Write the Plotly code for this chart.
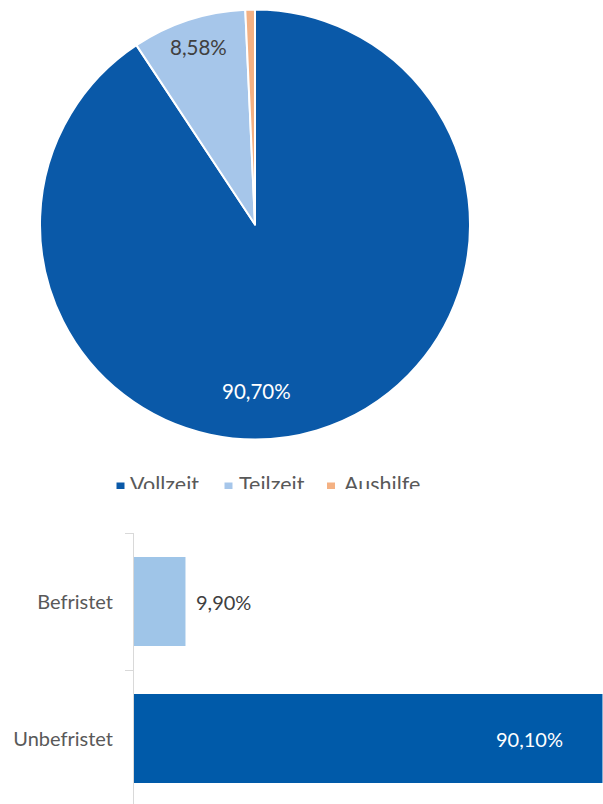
import plotly.graph_objects as go

# Beschäftigungsart (Anteile in %)
pie_labels = ["Vollzeit", "Teilzeit", "Aushilfe"]
pie_values = [90.70, 8.58, 0.72]
pie_colors = ["#0A59A8", "#A6C6EA", "#F4B183"]

# Befristung (Anteile in %)
bar_labels = ["Unbefristet", "Befristet"]
bar_values = [90.10, 9.90]
bar_colors = ["#005AA9", "#9FC5E8"]

FONT = "Lato"
GREY = "#595959"
DARK = "#404040"
W, H = 603, 804


def pct(v):
    return f"{v:.2f}".replace(".", ",") + "%"


def py(px):
    """Pixel row (from top) -> paper y."""
    return 1 - px / H


fig = go.Figure()

# Kreisdiagramm
fig.add_trace(go.Pie(
    labels=pie_labels,
    values=pie_values,
    sort=False,
    direction="clockwise",
    rotation=0,
    marker=dict(colors=pie_colors, line=dict(color="white", width=2)),
    textinfo="none",
    domain=dict(x=[40 / W, 470 / W], y=[py(440), py(9)]),
    showlegend=False,
    hoverinfo="label+percent",
))

# Datenbeschriftungen im Kreis
fig.add_annotation(
    xref="paper", yref="paper", x=256.5 / W, y=py(391),
    text=pct(pie_values[0]), showarrow=False,
    xanchor="center", yanchor="middle",
    font=dict(family=FONT, size=20.5, color="white"),
)
fig.add_annotation(
    xref="paper", yref="paper", x=198 / W, y=py(47),
    text=pct(pie_values[1]), showarrow=False,
    xanchor="center", yanchor="middle",
    font=dict(family=FONT, size=20.5, color=DARK),
)

# Legende unter dem Kreis (unten angeschnitten)
legend_marker_x = [120.5, 228.5, 331.0]
legend_text_x = [130.0, 239.0, 344.0]
fig.add_trace(go.Scatter(
    x=legend_marker_x,
    y=[2.5] * 3,
    mode="markers",
    marker=dict(symbol="square", size=8, color=pie_colors),
    cliponaxis=True,
    xaxis="x3", yaxis="y3",
    showlegend=False,
    hoverinfo="skip",
))
fig.add_trace(go.Scatter(
    x=legend_text_x,
    y=[2.5] * 3,
    mode="text",
    text=pie_labels,
    textposition="middle right",
    textfont=dict(family=FONT, size=21.5, color=GREY),
    cliponaxis=True,
    xaxis="x3", yaxis="y3",
    showlegend=False,
    hoverinfo="skip",
))

# Balkendiagramm
fig.add_trace(go.Bar(
    y=bar_labels,
    x=bar_values,
    orientation="h",
    width=0.65,
    marker=dict(color=bar_colors, line=dict(width=0)),
    showlegend=False,
    hovertemplate="%{y}: %{x:.2f}%<extra></extra>",
))

fig.add_annotation(
    x=bar_values[1], y=bar_labels[1], xref="x", yref="y",
    text=pct(bar_values[1]), showarrow=False,
    xanchor="left", xshift=9,
    font=dict(family=FONT, size=20, color=DARK),
)
fig.add_annotation(
    x=bar_values[0], y=bar_labels[0], xref="x", yref="y",
    text=pct(bar_values[0]), showarrow=False,
    xanchor="right", xshift=-37,
    font=dict(family=FONT, size=20, color="white"),
)

fig.update_layout(
    width=W, height=H,
    margin=dict(l=0, r=0, t=0, b=0),
    paper_bgcolor="white",
    plot_bgcolor="white",
    separators=",.",
    font=dict(family=FONT, color=GREY),
    xaxis=dict(domain=[134 / W, 1], range=[0, 90.2], visible=False, fixedrange=True),
    yaxis=dict(
        domain=[0, py(533)],
        type="category",
        categoryorder="array",
        categoryarray=bar_labels,
        range=[-0.478, 1.5],
        showline=True, linecolor="#D9D9D9", linewidth=1,
        ticks="outside", tickson="boundaries", ticklen=8, tickcolor="#D9D9D9",
        showgrid=False, zeroline=False,
        tickfont=dict(family=FONT, size=20, color=GREY),
        ticklabelstandoff=16,
        fixedrange=True,
    ),
    xaxis3=dict(domain=[0, 1], range=[0, W], visible=False, fixedrange=True),
    yaxis3=dict(domain=[py(489), py(459)], range=[0, 30], visible=False,
                fixedrange=True, anchor="x3"),
)

fig.write_html("out.html")
